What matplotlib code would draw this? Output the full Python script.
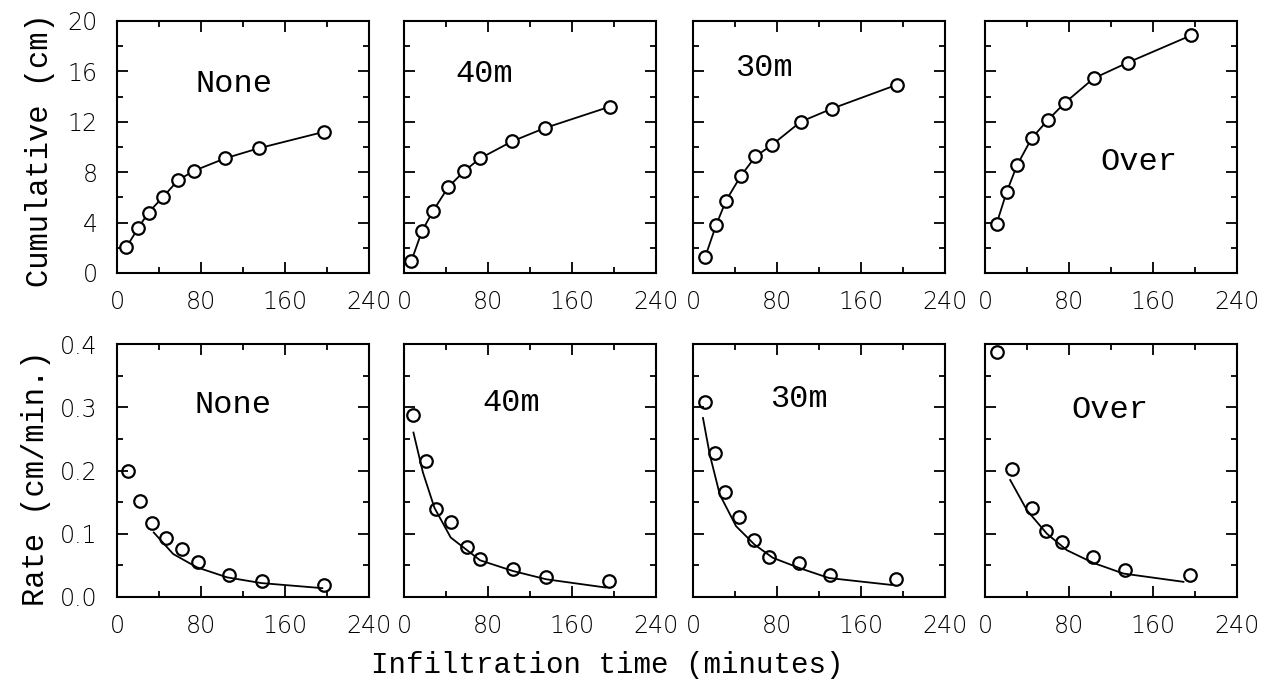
import matplotlib
matplotlib.use("Agg")
import matplotlib.pyplot as plt
from matplotlib.ticker import MultipleLocator

# Treatment labels for each column
treatments = ["None", "40m", "30m", "Over"]

# Cumulative infiltration (cm) vs time (min)
cum_x = [
    [9, 20, 30, 44, 58, 73, 103, 135, 197],
    [7, 17, 27.5, 42, 57.5, 72.5, 103, 134, 196],
    [11.5, 22, 31.5, 45.5, 59.5, 75, 102.5, 132.5, 194.5],
    [11, 20.5, 30.5, 44.5, 60, 76, 103.5, 136, 196],
]
cum_y = [
    [2.05, 3.55, 4.8, 6.05, 7.35, 8.1, 9.1, 9.9, 11.2],
    [0.95, 3.3, 4.9, 6.8, 8.1, 9.1, 10.45, 11.5, 13.2],
    [1.25, 3.8, 5.75, 7.7, 9.25, 10.15, 12.0, 13.05, 14.95],
    [3.9, 6.4, 8.55, 10.7, 12.15, 13.5, 15.45, 16.7, 18.85],
]

# Infiltration rate (cm/min) observations
rate_x = [
    [10, 22, 33.5, 47, 61.5, 77.5, 106.5, 138, 197],
    [9, 20.5, 30.5, 44.5, 60, 72.5, 104, 135.5, 195],
    [11, 20.5, 30, 43.5, 58, 72, 101, 130.5, 193],
    [11, 25.5, 44.5, 58, 73, 103, 133.5, 195],
]
rate_y = [
    [0.200, 0.151, 0.117, 0.094, 0.076, 0.055, 0.034, 0.026, 0.019],
    [0.287, 0.215, 0.139, 0.118, 0.079, 0.060, 0.045, 0.031, 0.025],
    [0.308, 0.228, 0.166, 0.126, 0.090, 0.064, 0.053, 0.034, 0.029],
    [0.388, 0.203, 0.140, 0.104, 0.087, 0.064, 0.042, 0.034],
]

# Fitted rate curves
fit_x = [
    [35, 53.5, 76, 105, 137.5, 195.5],
    [9, 18, 29, 44.5, 72.5, 104, 135.5, 192],
    [9.5, 16, 25.5, 41, 58.5, 76, 101, 129.5, 189.5],
    [24, 40, 59, 78, 103, 132, 189],
]
fit_y = [
    [0.102, 0.068, 0.047, 0.031, 0.022, 0.014],
    [0.260, 0.197, 0.141, 0.094, 0.058, 0.041, 0.028, 0.015],
    [0.283, 0.225, 0.162, 0.112, 0.083, 0.062, 0.046, 0.030, 0.019],
    [0.185, 0.137, 0.100, 0.074, 0.054, 0.037, 0.024],
]

# label positions inside panels (data coords)
cum_label_pos = [(111, 15.0), (76, 15.8), (68, 16.3), (147, 8.8)]
rate_label_pos = [(110, 0.303), (102, 0.307), (101, 0.313), (119, 0.296)]

W, H = 1268, 687
fig = plt.figure(figsize=(W / 100, H / 100), dpi=100)

lefts = [117, 404, 693, 985]
pw = 252
rows = [(21, 273), (344, 597)]

mono = "Liberation Mono"
tickfont = "DejaVu Sans"


def style_axes(ax, show_y):
    for s in ax.spines.values():
        s.set_linewidth(1.5)
    ax.tick_params(which="both", direction="in", top=True, right=True,
                   width=1.3, labelsize=17)
    ax.tick_params(axis="x", pad=12)
    ax.tick_params(axis="y", pad=14)
    ax.tick_params(which="major", length=8)
    ax.tick_params(which="minor", length=4)
    ax.xaxis.set_major_locator(MultipleLocator(80))
    ax.xaxis.set_minor_locator(MultipleLocator(40))
    ax.set_xlim(0, 240)
    for lab in ax.get_xticklabels() + ax.get_yticklabels():
        lab.set_fontfamily(tickfont)
        lab.set_fontweight("light")
        lab.set_color("black")
    if not show_y:
        ax.set_yticklabels([])


for i, name in enumerate(treatments):
    # top row: cumulative
    top, bot = rows[0]
    ax = fig.add_axes([lefts[i] / W, 1 - bot / H, pw / W, (bot - top) / H])
    ax.plot(cum_x[i], cum_y[i], "-", color="black", lw=1.3)
    ax.plot(cum_x[i], cum_y[i], "o", mfc="white", mec="black", ms=9, mew=1.6)
    ax.set_ylim(0, 20)
    ax.yaxis.set_major_locator(MultipleLocator(4))
    ax.yaxis.set_minor_locator(MultipleLocator(2))
    style_axes(ax, i == 0)
    ax.text(*cum_label_pos[i], name, family=mono, fontsize=23, ha="center", va="center")

    # bottom row: rate
    top, bot = rows[1]
    ax = fig.add_axes([lefts[i] / W, 1 - bot / H, pw / W, (bot - top) / H])
    ax.plot(fit_x[i], fit_y[i], "-", color="black", lw=1.3)
    ax.plot(rate_x[i], rate_y[i], "o", mfc="none", mec="black", ms=9, mew=1.6,
            clip_on=False)
    ax.set_ylim(0, 0.4)
    ax.yaxis.set_major_locator(MultipleLocator(0.1))
    ax.yaxis.set_minor_locator(MultipleLocator(0.05))
    ax.yaxis.set_major_formatter(plt.FuncFormatter(lambda v, p: f"{v:.1f}"))
    style_axes(ax, i == 0)
    ax.text(*rate_label_pos[i], name, family=mono, fontsize=23, ha="center", va="center")

fig.text(40 / W, 1 - 150 / H, "Cumulative (cm)", family=mono, fontsize=22,
         rotation=90, ha="center", va="center")
fig.text(36 / W, 1 - 478 / H, "Rate (cm/min.)", family=mono, fontsize=22,
         rotation=90, ha="center", va="center")
fig.text(607 / W, 1 - 665 / H, "Infiltration time (minutes)", family=mono,
         fontsize=21, ha="center", va="center")

fig.savefig("out.png", dpi=100)
